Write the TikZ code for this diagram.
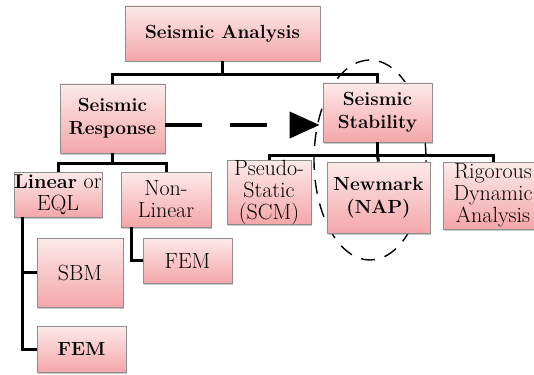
\documentclass[tikz,border=0pt]{standalone}
\usepackage{fontspec}
\usetikzlibrary{shadows,arrows.meta,calc}
\definecolor{boxtop}{HTML}{FDEAEA}
\definecolor{boxbot}{HTML}{F4A6A9}
\definecolor{boxline}{HTML}{8E8E8E}
\begin{document}
\begin{tikzpicture}[x=1pt,y=-1pt,
  box/.style={draw=boxline, line width=0.9pt, top color=boxtop, bottom color=boxbot,
    drop shadow={shadow xshift=1.2pt, shadow yshift=-1.5pt, opacity=0.35, fill=black!60},
    inner sep=0pt, align=center, font=\fontsize{22}{22}\selectfont},
  bbox/.style={box, font=\fontsize{19}{23}\selectfont\bfseries},
  conn/.style={line width=3pt, black},
]
\useasboundingbox (0,0) rectangle (534,374);
\clip (0,0) rectangle (534,374);
% dashed highlight ellipse (behind)
\draw[line width=1.4pt, dash pattern=on 14pt off 10pt] (370,160) ellipse (56 and 100);
% nodes
\node[bbox, minimum width=195pt, minimum height=55pt] (SA) at (222.5,33.5) {Seismic Analysis};
\node[bbox, minimum width=105pt, minimum height=69pt] (SR) at (112.5,118.5) {Seismic\\Response};
\node[bbox, minimum width=109pt, minimum height=59pt] (SS) at (377.5,112.5) {Seismic\\Stability};
\node[box, minimum width=84pt, minimum height=61pt] (PS) at (269,192.5) {Pseudo-\\Static\\(SCM)};
\node[bbox, minimum width=103pt, minimum height=71pt] (NM) at (378.5,197.5) {Newmark\\(NAP)};
\node[box, minimum width=100pt, minimum height=67pt] (RD) at (493,195.5) {Rigorous\\Dynamic\\Analysis};
\node[box, minimum width=88pt, minimum height=45pt] (LIN) at (58,194.5) {{\fontsize{20}{22}\selectfont\bfseries Linear} or\\EQL};
\node[box, minimum width=90pt, minimum height=55pt] (NL) at (166,199.5) {Non-\\Linear};
\node[box, minimum width=86pt, minimum height=69pt] (SBM) at (80,272.5) {SBM};
\node[bbox, minimum width=89pt, minimum height=46pt] (FEMa) at (81.5,349) {FEM};
\node[box, minimum width=89pt, minimum height=45pt] (FEMb) at (187.5,260.5) {FEM};
% connectors
\coordinate (j1) at ($(SA.south)+(0,13)$);
\draw[conn] (SA.south) -- (j1);
\draw[conn] (SR.north) |- (j1) -| (SS.north);
\coordinate (j2) at ($(SR.south)+(0,10)$);
\draw[conn] (SR.south) -- (j2);
\draw[conn] (LIN.north) |- (j2) -| (NL.north);
\coordinate (j3) at ($(SS.south)+(0,13)$);
\draw[conn] (SS.south) -- (j3);
\draw[conn] (PS.north) |- (j3) -| (RD.north);
\draw[conn] (j3) -- (NM.north);
\coordinate (j4) at ($(LIN.south west)+(9,0)$);
\draw[conn] (j4) |- (SBM.west);
\draw[conn] (j4) |- (FEMa.west);
\coordinate (j5) at ($(NL.south west)+(11,0)$);
\draw[conn] (j5) |- (FEMb.west);
% dashed arrow
\coordinate (a1) at ($(SR.east)+(0,6.5)$);
\coordinate (a2) at ($(SS.west)+(-3,12.5)$);
\draw[line width=4pt, dash pattern=on 37pt off 28pt, -{Triangle[length=30pt,width=26pt]}] (a1) -- (a2);
\end{tikzpicture}
\end{document}
